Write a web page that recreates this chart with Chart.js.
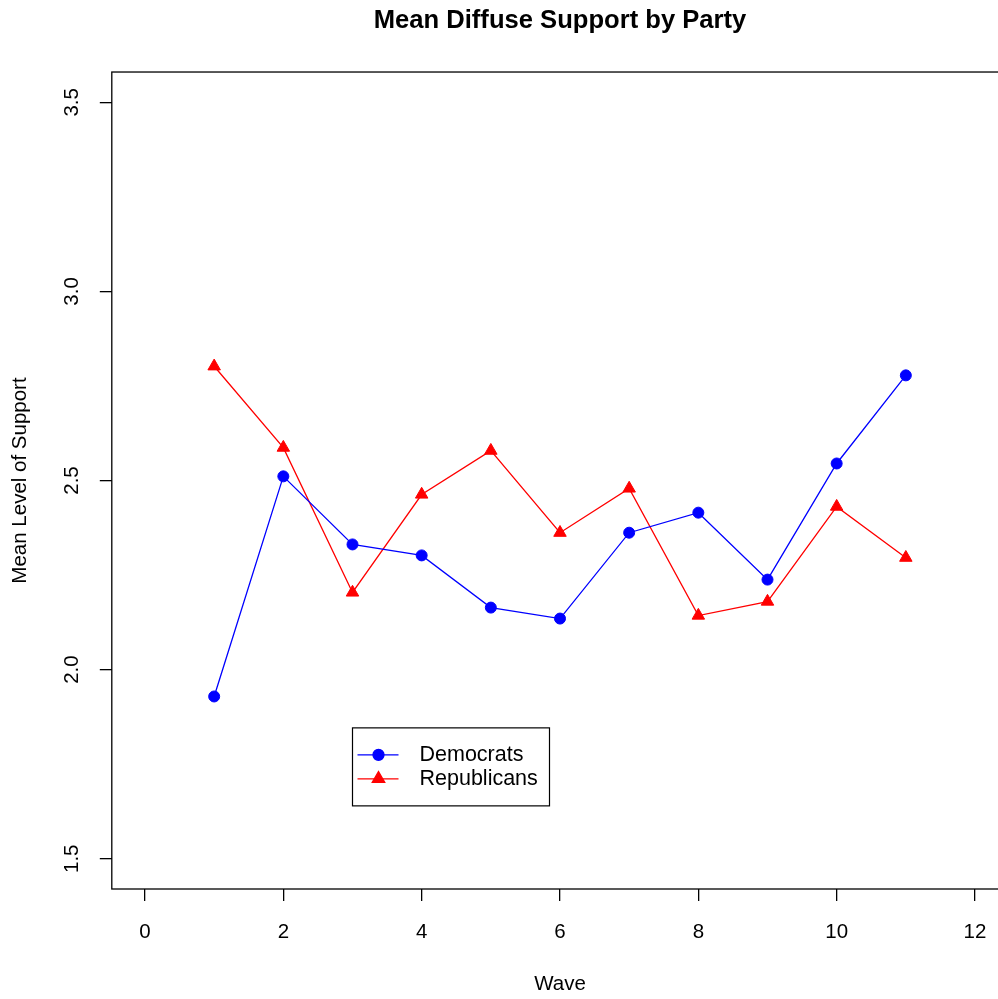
<!DOCTYPE html>
<html>
<head>
<meta charset="utf-8">
<title>Mean Diffuse Support by Party</title>
<script src="https://cdn.jsdelivr.net/npm/chart.js@4.4.0/dist/chart.umd.min.js"></script>
<style>
  html, body { margin: 0; padding: 0; overflow: hidden; background: #fff; }
  canvas { display: block; }
</style>
</head>
<body>
<canvas id="supportChart" width="1010" height="999"></canvas>
<script>
const waves = [1, 2, 3, 4, 5, 6, 7, 8, 9, 10, 11];
const democrats = [1.929, 2.511, 2.331, 2.302, 2.164, 2.135, 2.362, 2.415, 2.238, 2.545, 2.778];
const republicans = [2.802, 2.587, 2.204, 2.463, 2.579, 2.362, 2.479, 2.143, 2.180, 2.431, 2.296];
const xTicks = [0, 2, 4, 6, 8, 10, 12];
const yTicks = [1.5, 2.0, 2.5, 3.0, 3.5];

const FONT = "'Liberation Sans', Arial, Helvetica, sans-serif";

const toPoints = (vals) => waves.map((w, i) => ({ x: w, y: vals[i] }));

// box round the plot, rotated y labels, legend
const rPlotStyle = {
  id: "rPlotStyle",
  afterDraw(chart) {
    const { ctx, chartArea, scales } = chart;
    ctx.save();
    ctx.strokeStyle = "#000";
    ctx.lineWidth = 1.3;
    ctx.strokeRect(chartArea.left, chartArea.top, chartArea.right - chartArea.left, chartArea.bottom - chartArea.top);

    // y tick labels, turned like R does
    ctx.fillStyle = "#000";
    ctx.font = "20.5px " + FONT;
    ctx.textAlign = "center";
    ctx.textBaseline = "middle";
    yTicks.forEach((v) => {
      const py = scales.y.getPixelForValue(v);
      ctx.save();
      ctx.translate(72, py);
      ctx.rotate(-Math.PI / 2);
      ctx.fillText(v.toFixed(1), 0, 0);
      ctx.restore();
    });

    // legend at (3, 1.846) in data units
    const lx = scales.x.getPixelForValue(3);
    const ly = scales.y.getPixelForValue(1.846);
    const lw = 197, lh = 78;
    ctx.fillStyle = "#fff";
    ctx.fillRect(lx, ly, lw, lh);
    ctx.strokeStyle = "#000";
    ctx.lineWidth = 1.2;
    ctx.strokeRect(lx, ly, lw, lh);
    chart.data.datasets.forEach((ds, i) => {
      const rowY = ly + 27 + i * 24;
      ctx.strokeStyle = ds.borderColor;
      ctx.lineWidth = 1.3;
      ctx.beginPath();
      ctx.moveTo(lx + 5, rowY);
      ctx.lineTo(lx + 46, rowY);
      ctx.stroke();
      ctx.fillStyle = ds.borderColor;
      Chart.helpers.drawPoint(ctx, {
        pointStyle: ds.pointStyle,
        radius: ds.pointRadius,
        borderWidth: 1,
        rotation: 0
      }, lx + 26, rowY);
      ctx.fillStyle = "#000";
      ctx.font = "21.5px " + FONT;
      ctx.textAlign = "left";
      ctx.textBaseline = "middle";
      ctx.fillText(ds.label, lx + 67, rowY);
    });
    ctx.restore();
  }
};

new Chart(document.getElementById("supportChart"), {
  type: "line",
  data: {
    datasets: [
      {
        label: "Democrats",
        data: toPoints(democrats),
        borderColor: "#0000ff",
        backgroundColor: "#0000ff",
        borderWidth: 1.3,
        pointStyle: "circle",
        pointRadius: 5.5,
        pointBorderWidth: 1,
        tension: 0
      },
      {
        label: "Republicans",
        data: toPoints(republicans),
        borderColor: "#ff0000",
        backgroundColor: "#ff0000",
        borderWidth: 1.3,
        pointStyle: "triangle",
        pointRadius: 7.2,
        pointBorderWidth: 1,
        tension: 0
      }
    ]
  },
  options: {
    responsive: false,
    animation: false,
    devicePixelRatio: 1,
    layout: { autoPadding: false, padding: { left: 0, right: 1.8, top: 0, bottom: 0 } },
    plugins: {
      legend: { display: false },
      tooltip: { enabled: false },
      title: {
        display: true,
        fullSize: false,
        text: "Mean Diffuse Support by Party",
        color: "#000",
        font: { family: FONT, size: 25.6, weight: "bold" },
        padding: { top: 6, bottom: 35.3 }
      }
    },
    scales: {
      x: {
        type: "linear",
        min: -0.48,
        max: 12.48,
        afterFit: (scale) => {
          scale.height = 110;
          scale.paddingLeft = 0;
          scale.paddingRight = 0;
        },
        afterBuildTicks: (scale) => { scale.ticks = xTicks.map((v) => ({ value: v })); },
        border: { display: false },
        grid: { drawOnChartArea: false, drawTicks: true, tickLength: 12, color: "#000", lineWidth: 1.3 },
        ticks: {
          color: "#000",
          font: { family: FONT, size: 20.5 },
          padding: 19,
          maxRotation: 0,
          autoSkip: false
        },
        title: {
          display: true,
          text: "Wave",
          color: "#000",
          font: { family: FONT, size: 20.5 },
          padding: { top: 0, bottom: 2 }
        }
      },
      y: {
        type: "linear",
        min: 1.42,
        max: 3.58,
        afterFit: (scale) => { scale.width = 111.8; },
        afterBuildTicks: (scale) => { scale.ticks = yTicks.map((v) => ({ value: v })); },
        border: { display: false },
        grid: { drawOnChartArea: false, drawTicks: true, tickLength: 12, color: "#000", lineWidth: 1.3 },
        ticks: { display: false },
        title: {
          display: true,
          text: "Mean Level of Support",
          color: "#000",
          font: { family: FONT, size: 20.5 },
          padding: { top: 8, bottom: 0 }
        }
      }
    }
  },
  plugins: [rPlotStyle]
});
</script>
</body>
</html>
